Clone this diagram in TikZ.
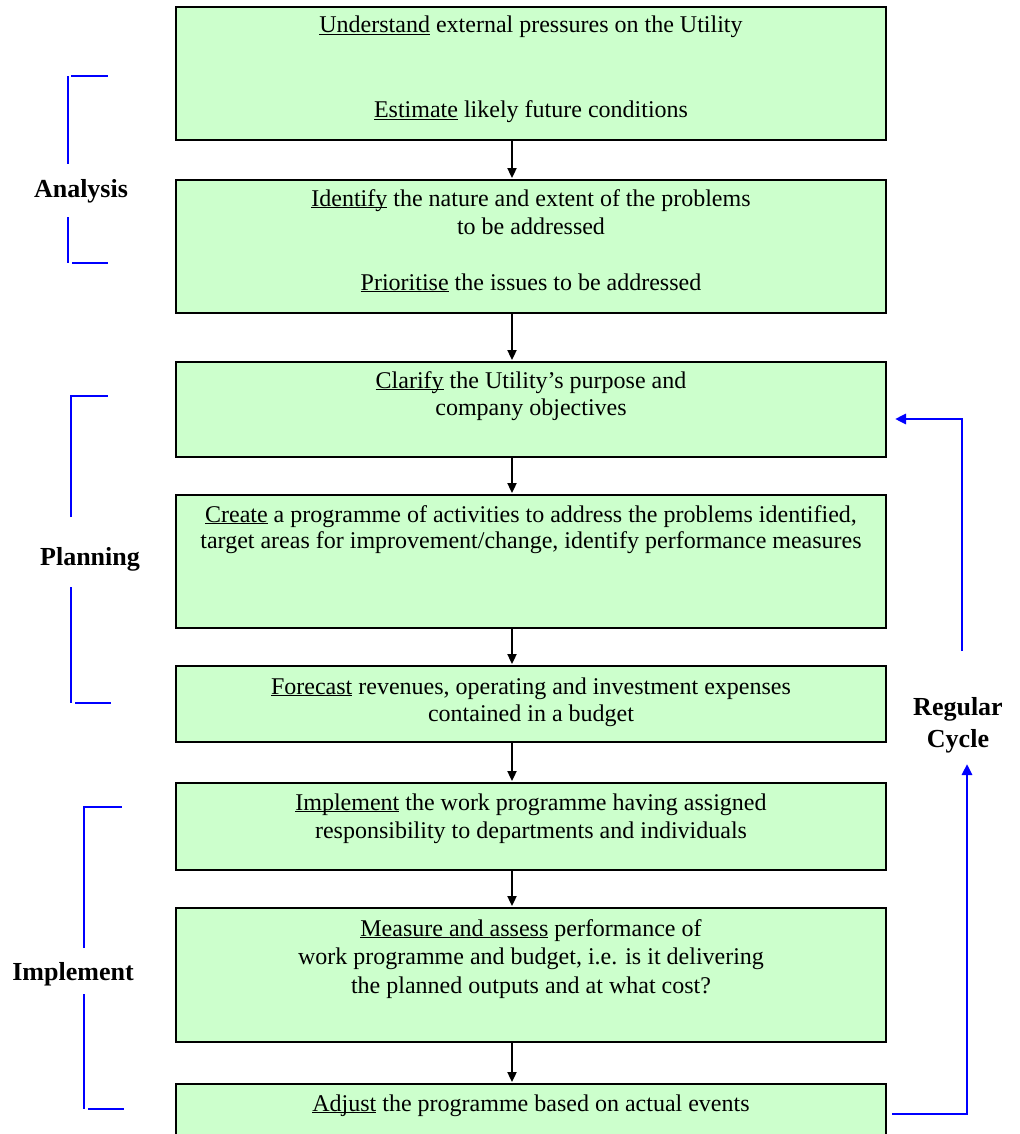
\documentclass[tikz,border=0pt]{standalone}
\usepackage{fontspec}
\setmainfont{Liberation Serif}
\usetikzlibrary{arrows.meta}
\definecolor{boxgreen}{HTML}{CCFFCC}
\definecolor{cycblue}{HTML}{0000FF}
\newsavebox\ulbox
\newcommand\ulw[1]{\sbox\ulbox{#1}\rlap{\rule[-2.3pt]{\wd\ulbox}{1.3pt}}\usebox\ulbox}
\begin{document}
\begin{tikzpicture}[x=1pt,y=-1pt,
  stagebox/.style={draw=black,line width=1.8pt,fill=boxgreen,rectangle,minimum width=710pt,inner sep=0pt},
  txt/.style={anchor=base,inner sep=0pt,font=\fontsize{24}{28}\selectfont},
  lbl/.style={anchor=base,inner sep=0pt,font=\fontsize{26}{32}\selectfont\bfseries},
  flow/.style={draw=black,line width=1.8pt,-{Triangle[length=10pt,width=9pt]}},
  brk/.style={draw=cycblue,line width=2.8pt},
  cyc/.style={draw=cycblue,line width=2.8pt},
  cyca/.style={cyc,-{Triangle[length=11pt,width=10pt]}}]
\clip (0,0) rectangle (1019,1134);
\fill[white] (0,0) rectangle (1019,1134);

% boxes
\node[stagebox,minimum height=133pt] (b1) at (531,73.5) {};
\node[stagebox,minimum height=133pt] (b2) at (531,246.5) {};
\node[stagebox,minimum height=95pt]  (b3) at (531,409.5) {};
\node[stagebox,minimum height=133pt] (b4) at (531,561.5) {};
\node[stagebox,minimum height=76pt]  (b5) at (531,704) {};
\node[stagebox,minimum height=87pt]  (b6) at (531,826.5) {};
\node[stagebox,minimum height=134pt] (b7) at (531,975) {};
\node[stagebox,minimum height=80pt]  (b8) at (531,1124) {};

% texts
\node[txt] (t1a) at (531,33)  {\ulw{Understand} external pressures on the Utility};
\node[txt] (t1b) at (531,118) {\ulw{Estimate} likely future conditions};
\node[txt] (t2a) at (531,206) {\ulw{Identify} the nature and extent of the problems};
\node[txt] (t2b) at (531,234) {to be addressed};
\node[txt] (t2c) at (531,290) {\ulw{Prioritise} the issues to be addressed};
\node[txt] (t3a) at (531,388) {\ulw{Clarify} the Utility’s purpose and};
\node[txt] (t3b) at (531,415) {company objectives};
\node[txt] (t4a) at (531,522) {\ulw{Create} a programme of activities to address the problems identified,};
\node[txt] (t4b) at (531,548) {target areas for improvement/change, identify performance measures};
\node[txt] (t5a) at (531,694) {\ulw{Forecast} revenues, operating and investment expenses};
\node[txt] (t5b) at (531,721) {contained in a budget};
\node[txt] (t6a) at (531,810) {\ulw{Implement} the work programme having assigned};
\node[txt] (t6b) at (531,838) {responsibility to departments and individuals};
\node[txt] (t7a) at (531,936) {\ulw{Measure and assess} performance of};
\node[txt] (t7b) at (531,964) {work programme and budget, i.e. is it delivering};
\node[txt] (t7c) at (531,993) {the planned outputs and at what cost?};
\node[txt] (t8a) at (531,1111) {\ulw{Adjust} the programme based on actual events};

% flow arrows
\coordinate (ax) at (512,0);
\draw[flow] (b1.south -| ax) -- ([yshift=1pt]b2.north -| ax);
\draw[flow] (b2.south -| ax) -- ([yshift=1pt]b3.north -| ax);
\draw[flow] (b3.south -| ax) -- ([yshift=1pt]b4.north -| ax);
\draw[flow] (b4.south -| ax) -- ([yshift=1pt]b5.north -| ax);
\draw[flow] (b5.south -| ax) -- ([yshift=1pt]b6.north -| ax);
\draw[flow] (b6.south -| ax) -- ([yshift=1pt]b7.north -| ax);
\draw[flow] (b7.south -| ax) -- ([yshift=1pt]b8.north -| ax);

% phase labels
\node[lbl] (lan) at (81,197) {Analysis};
\node[lbl] (lpl) at (90,565) {Planning};
\node[lbl] (lim) at (73,980) {Implement};
\node[lbl,align=center] (lrc) at (958,747) {Regular\\Cycle};

% brackets
\draw[brk] (68,164) -- (68,76);
\draw[brk] (71,76) -- (108,76);
\draw[brk] (68,217) -- (68,263);
\draw[brk] (72,263) -- (108,263);

\draw[brk] (71,517) -- (71,396) -- (108,396);
\draw[brk] (71,587) -- (71,703);
\draw[brk] (75,703) -- (111,703);

\draw[brk] (84,948) -- (84,807) -- (122,807);
\draw[brk] (84,994) -- (84,1109);
\draw[brk] (88,1109) -- (124,1109);

% regular cycle connectors
\coordinate (rc0) at (892,1114);
\coordinate (rc1) at (967,764);
\coordinate (rc2) at (962,651);
\coordinate (rc3) at (895,419);
\draw[cyca] (rc0) -| (rc1);
\draw[cyca] (rc2) |- (rc3);
\end{tikzpicture}
\end{document}
